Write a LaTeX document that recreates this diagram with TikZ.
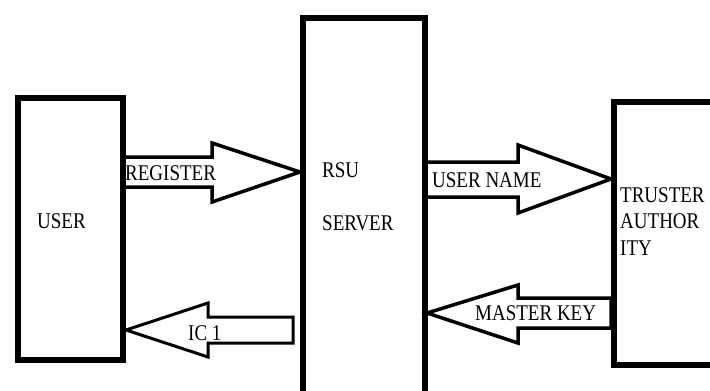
\documentclass[tikz,border=0pt]{standalone}
\usepackage{fontspec}
\setmainfont{Liberation Serif}
\newcommand{\tallcaps}[1]{\scalebox{1}[1.18]{#1}}
\tikzset{
  x=1pt, y=-1pt,
  box/.style={draw=black, line width=6pt, fill=white, rectangle, anchor=north west, inner sep=0pt},
  blockarrow/.style={draw=black, line width=3.5pt, fill=white, line join=miter},
  lbl/.style={anchor=base west, inner sep=0pt, font=\fontsize{19}{26}\selectfont},
}
\begin{document}
\begin{tikzpicture}
  \useasboundingbox (0,0) rectangle (710,391);
  \clip (0,0) rectangle (710,391);
  \fill[white] (0,0) rectangle (710,391);

  % the three parties
  \node[box, minimum width=105pt, minimum height=262pt] (user) at (15,95) {};
  \node[box, minimum width=122pt, minimum height=380pt] (rsu) at (300,15) {};
  \node[box, minimum width=130pt, minimum height=263pt] (ta) at (611,99) {};

  % REGISTER: user -> server
  \filldraw[blockarrow] (user.east |- 0,157) -- (212,157) -- (212,143)
    -- (rsu.west |- 0,172) -- (212,202) -- (212,187) -- (user.east |- 0,187);
  % IC 1: server -> user
  \filldraw[blockarrow, line width=3pt] (user.east |- 0,330) -- (208,303) -- (208,317)
    -- (293,317) -- (293,343) -- (208,343) -- (208,357) -- cycle;
  % USER NAME: server -> authority
  \filldraw[blockarrow] (rsu.east |- 0,162) -- (518,162) -- (518,145)
    -- (ta.west |- 0,179) -- (518,213) -- (518,197) -- (rsu.east |- 0,197);
  % MASTER KEY: authority -> server
  \filldraw[blockarrow] (427,313) -- (518,285) -- (518,298)
    -- (ta.west |- 0,298) -- (ta.west |- 0,328) -- (518,328) -- (518,343) -- cycle;

  % labels
  \node[lbl] (tuser) at (37,228) {\tallcaps{USER}};
  \node[lbl] (treg) at (125,180) {\tallcaps{REGISTER}};
  \node[lbl] (tic) at (188,340) {\tallcaps{IC 1}};
  \node[lbl] (trsu) at (322,177) {\tallcaps{RSU}};
  \node[lbl] (tserver) at (322,230) {\tallcaps{SERVER}};
  \node[lbl] (tuname) at (432,187) {\tallcaps{USER NAME}};
  \node[lbl] (tmkey) at (475,320) {\tallcaps{MASTER KEY}};
  \node[lbl] (ttruster) at (620,202) {\tallcaps{TRUSTER}};
  \node[lbl] (tauthor) at (620,228) {\tallcaps{AUTHOR}};
  \node[lbl] (tity) at (620,255) {\tallcaps{ITY}};
\end{tikzpicture}
\end{document}
